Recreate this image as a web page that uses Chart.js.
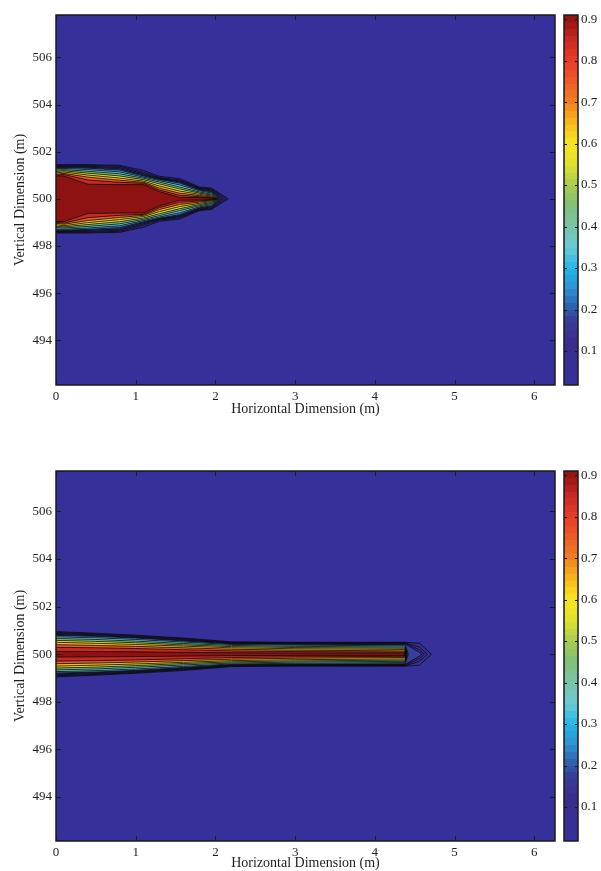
<!DOCTYPE html>
<html>
<head>
<meta charset="utf-8">
<title>Contour plots</title>
<script src="https://cdn.jsdelivr.net/npm/chart.js@4.4.1/dist/chart.umd.min.js"></script>
<style>
  html, body { margin: 0; padding: 0; background: #fff; overflow: hidden; }
  canvas { position: absolute; }
</style>
</head>
<body>
<canvas id="plotTop" width="560" height="430" style="left:0;top:0"></canvas>
<canvas id="cbTop" width="46" height="430" style="left:555px;top:0"></canvas>
<canvas id="plotBot" width="560" height="416" style="left:0;top:456px"></canvas>
<canvas id="cbBot" width="46" height="416" style="left:555px;top:456px"></canvas>

<script>
// ---- data ----
var X_LIM = [0, 6.26];
var Y_LIM_TOP = [492.1, 507.8];
var Y_LIM_BOT = [492.15, 507.7];
var X_TICKS_STEP = 1;
var Y_TICKS_STEP = 2;
var CENTER_Y = 500;

var LEVELS = [0.02, 0.05, 0.1, 0.15, 0.2, 0.3, 0.4, 0.5, 0.6, 0.7, 0.8, 0.9];

// top plot: x stations and half-widths (m above y=500) of each contour level
var TOP_X = [0, 0.1, 0.4, 0.8, 1.1, 1.3, 1.55, 1.8, 1.95];
var TOP_HALF = [
  [1.45, 1.45, 1.45, 1.42, 1.20, 0.95, 0.86, 0.50, 0.45],
  [1.42, 1.42, 1.42, 1.38, 1.12, 0.90, 0.80, 0.47, 0.42],
  [1.39, 1.39, 1.38, 1.33, 1.06, 0.87, 0.76, 0.44, 0.38],
  [1.36, 1.36, 1.34, 1.28, 1.01, 0.85, 0.72, 0.41, 0.34],
  [1.33, 1.33, 1.30, 1.22, 0.97, 0.82, 0.67, 0.38, 0.30],
  [1.28, 1.29, 1.24, 1.14, 0.92, 0.77, 0.59, 0.34, 0.25],
  [1.22, 1.24, 1.17, 1.06, 0.87, 0.71, 0.50, 0.29, 0.20],
  [1.16, 1.19, 1.09, 0.97, 0.81, 0.63, 0.42, 0.24, 0.16],
  [1.10, 1.14, 1.01, 0.88, 0.75, 0.54, 0.33, 0.19, 0.12],
  [1.04, 1.08, 0.92, 0.79, 0.70, 0.45, 0.24, 0.14, 0.08],
  [1.00, 1.03, 0.80, 0.70, 0.66, 0.37, 0.15, 0.09, 0.05],
  [0.97, 0.97, 0.62, 0.60, 0.60, 0.30, 0.06, 0.05, 0.03]
];
var TOP_TIP = [2.16, 2.13, 2.10, 2.08, 2.06, 2.05, 2.04, 2.03, 2.02, 2.01, 2.00, 1.98];

// bottom plot
var BOT_X = [0, 0.5, 1.0, 1.6, 2.2, 3.0, 4.38, 4.56];
var BOT_HALF = [
  [0.95, 0.88, 0.80, 0.68, 0.52, 0.50, 0.50, 0.46],
  [0.91, 0.85, 0.77, 0.65, 0.50, 0.48, 0.48, 0.30],
  [0.87, 0.82, 0.74, 0.62, 0.48, 0.46, 0.46, 0.18],
  [0.83, 0.78, 0.71, 0.59, 0.46, 0.44, 0.43, 0.08],
  [0.79, 0.75, 0.68, 0.56, 0.44, 0.42, 0.40, null],
  [0.73, 0.69, 0.62, 0.51, 0.41, 0.38, 0.35, null],
  [0.66, 0.62, 0.55, 0.45, 0.37, 0.33, 0.30, null],
  [0.58, 0.54, 0.48, 0.39, 0.32, 0.28, 0.25, null],
  [0.50, 0.46, 0.41, 0.34, 0.27, 0.23, 0.20, null],
  [0.40, 0.37, 0.33, 0.27, 0.21, 0.17, 0.14, null],
  [0.29, 0.27, 0.24, 0.19, 0.14, 0.11, 0.09, null],
  [0.12, 0.11, 0.10, 0.08, 0.06, 0.05, 0.05, null]
];
var BOT_TIP = [4.71, 4.66, 4.62, 4.59, 4.42, 4.41, 4.40, 4.40, 4.39, 4.39, 4.39, 4.39];

// colour scale
var CB_LIM = [0.018, 0.91];
var CB_BANDS = 54;
var CMAP_STOPS = [0.018, 0.12, 0.17, 0.2, 0.25, 0.3, 0.35, 0.4, 0.45, 0.5, 0.55, 0.6, 0.65, 0.7, 0.75, 0.8, 0.85, 0.91];
var CMAP_COLORS = ['#35309a', '#3c2c8f', '#3a3a98', '#2f5aa8', '#3090d0', '#22b8ea', '#6ccad4', '#78c4a8',
  '#80c078', '#a8cc50', '#e0e030', '#f8e620', '#f8b818', '#f08020', '#ec5c28', '#e83c28', '#c82a22', '#8a1010'];

var X_TITLE = 'Horizontal Dimension (m)';
var Y_TITLE = 'Vertical Dimension (m)';

// ---- helpers ----
function hexRgb(h) {
  return [parseInt(h.substr(1, 2), 16), parseInt(h.substr(3, 2), 16), parseInt(h.substr(5, 2), 16)];
}

function cmap(v) {
  var n = CMAP_STOPS.length;
  if (v <= CMAP_STOPS[0]) return CMAP_COLORS[0];
  for (var i = 1; i < n; i++) {
    if (v <= CMAP_STOPS[i] || i == n - 1) {
      var t = (v - CMAP_STOPS[i - 1]) / (CMAP_STOPS[i] - CMAP_STOPS[i - 1]);
      t = Math.max(0, Math.min(1, t));
      var a = hexRgb(CMAP_COLORS[i - 1]), b = hexRgb(CMAP_COLORS[i]);
      return 'rgb(' + Math.round(a[0] + (b[0] - a[0]) * t) + ',' +
        Math.round(a[1] + (b[1] - a[1]) * t) + ',' + Math.round(a[2] + (b[2] - a[2]) * t) + ')';
    }
  }
}

function levelDatasets(xs, half, tips) {
  var fills = [], lines = [];
  for (var i = 0; i < LEVELS.length; i++) {
    var top = [], bot = [];
    for (var k = 0; k < xs.length; k++) {
      var h = half[i][k];
      if (h === null) continue;
      top.push({x: xs[k], y: CENTER_Y + h});
      bot.push({x: xs[k], y: CENTER_Y - h});
    }
    var tip = {x: tips[i], y: CENTER_Y};
    var outline = top.concat([tip], bot.reverse());
    // closed loop that starts at the left and ends at the tip (centre line run twice)
    var loop = [{x: xs[0], y: CENTER_Y}].concat(outline, [{x: xs[0], y: CENTER_Y}, tip]);
    var next = i < LEVELS.length - 1 ? LEVELS[i + 1] : CB_LIM[1];
    fills.push({
      data: loop, fill: 'shape', backgroundColor: cmap((LEVELS[i] + next) / 2),
      borderWidth: 0, pointRadius: 0, order: 1000 - i
    });
    lines.push({
      data: outline, fill: false, borderColor: 'rgba(10,10,10,0.9)',
      borderWidth: 0.9, pointRadius: 0, order: 100 - i
    });
  }
  return fills.concat(lines);
}

var framePlugin = {
  id: 'frame',
  beforeDatasetsDraw: function(chart, args, opts) {
    if (!opts.bg) return;
    var a = chart.chartArea, ctx = chart.ctx;
    ctx.save();
    ctx.fillStyle = opts.bg;
    ctx.fillRect(a.left, a.top, a.right - a.left, a.bottom - a.top);
    ctx.restore();
  },
  afterDraw: function(chart, args, opts) {
    var a = chart.chartArea, ctx = chart.ctx, len = opts.tickLen || 4;
    ctx.save();
    ctx.strokeStyle = '#1a1a1a';
    ctx.lineWidth = 1;
    ctx.beginPath();
    ['x', 'y'].forEach(function(id) {
      var s = chart.scales[id];
      if (!s || s.options.display === false) return;
      s.ticks.forEach(function(t) {
        var p = Math.round(s.getPixelForValue(t.value)) + 0.5;
        if (id == 'x') {
          ctx.moveTo(p, a.bottom); ctx.lineTo(p, a.bottom - len);
          ctx.moveTo(p, a.top); ctx.lineTo(p, a.top + len);
        } else {
          ctx.moveTo(a.left, p); ctx.lineTo(a.left + len, p);
          ctx.moveTo(a.right, p); ctx.lineTo(a.right - len, p);
        }
      });
    });
    ctx.stroke();
    ctx.lineWidth = 1.5;
    ctx.strokeRect(a.left, a.top, a.right - a.left, a.bottom - a.top);
    ctx.restore();
  }
};

Chart.defaults.font.family = "'Liberation Serif', 'Times New Roman', serif";
Chart.defaults.font.size = 13;
Chart.defaults.color = '#1e1e1e';

function makePlot(id, yLim, half, xs, tips, axisH, padBottom) {
  return new Chart(document.getElementById(id), {
    type: 'line',
    data: { datasets: levelDatasets(xs, half, tips) },
    options: {
      responsive: false,
      animation: false,
      layout: { padding: { left: 0, right: 5, top: 15, bottom: padBottom } },
      plugins: {
        legend: { display: false },
        tooltip: { enabled: false },
        frame: { bg: cmap(0), tickLen: 5 }
      },
      elements: { line: { tension: 0 } },
      scales: {
        x: {
          type: 'linear', min: X_LIM[0], max: X_LIM[1],
          grid: { display: false, drawTicks: false },
          border: { display: false },
          ticks: { stepSize: X_TICKS_STEP, includeBounds: false, autoSkip: false, maxRotation: 0, padding: 4 },
          title: { display: true, text: X_TITLE, font: { size: 14 }, padding: { top: 0, bottom: 0 } },
          afterFit: function(s) { s.height = axisH; }
        },
        y: {
          type: 'linear', min: yLim[0], max: yLim[1],
          grid: { display: false, drawTicks: false },
          border: { display: false },
          ticks: { stepSize: Y_TICKS_STEP, includeBounds: false, autoSkip: false, padding: 4 },
          title: { display: true, text: Y_TITLE, font: { size: 14 }, padding: { top: 12, bottom: 0 } },
          afterFit: function(s) { s.width = 56; }
        }
      }
    },
    plugins: [framePlugin]
  });
}

function makeColorbar(id, padBottom) {
  return new Chart(document.getElementById(id), {
    type: 'bar',
    data: {
      labels: ['c'],
      datasets: [{
        data: [CB_LIM],
        borderWidth: 0,
        barPercentage: 1,
        categoryPercentage: 1,
        backgroundColor: function(c) {
          var ch = c.chart, s = ch.scales.y;
          if (!ch.chartArea || !s) return cmap(0.5);
          var y0 = s.getPixelForValue(CB_LIM[0]), y1 = s.getPixelForValue(CB_LIM[1]);
          var g = ch.ctx.createLinearGradient(0, y0, 0, y1);
          for (var i = 0; i < CB_BANDS; i++) {
            var col = cmap(CB_LIM[0] + (i + 0.5) * (CB_LIM[1] - CB_LIM[0]) / CB_BANDS);
            g.addColorStop(i / CB_BANDS, col);
            g.addColorStop((i + 1) / CB_BANDS, col);
          }
          return g;
        }
      }]
    },
    options: {
      responsive: false,
      animation: false,
      layout: { padding: { left: 9, right: 0, top: 15, bottom: padBottom } },
      plugins: {
        legend: { display: false },
        tooltip: { enabled: false },
        frame: { tickLen: 3 }
      },
      scales: {
        x: { display: false },
        y: {
          position: 'right', min: CB_LIM[0], max: CB_LIM[1],
          grid: { display: false, drawTicks: false },
          border: { display: false },
          ticks: {
            stepSize: 0.1, includeBounds: false, autoSkip: false, padding: 3,
            callback: function(v) { return v.toFixed(1); }
          },
          afterFit: function(s) { s.width = 23; }
        }
      }
    },
    plugins: [framePlugin]
  });
}

makePlot('plotTop', Y_LIM_TOP, TOP_HALF, TOP_X, TOP_TIP, 33, 12);
makeColorbar('cbTop', 45);
makePlot('plotBot', Y_LIM_BOT, BOT_HALF, BOT_X, BOT_TIP, 31, 0);
makeColorbar('cbBot', 31);
</script>
</body>
</html>
